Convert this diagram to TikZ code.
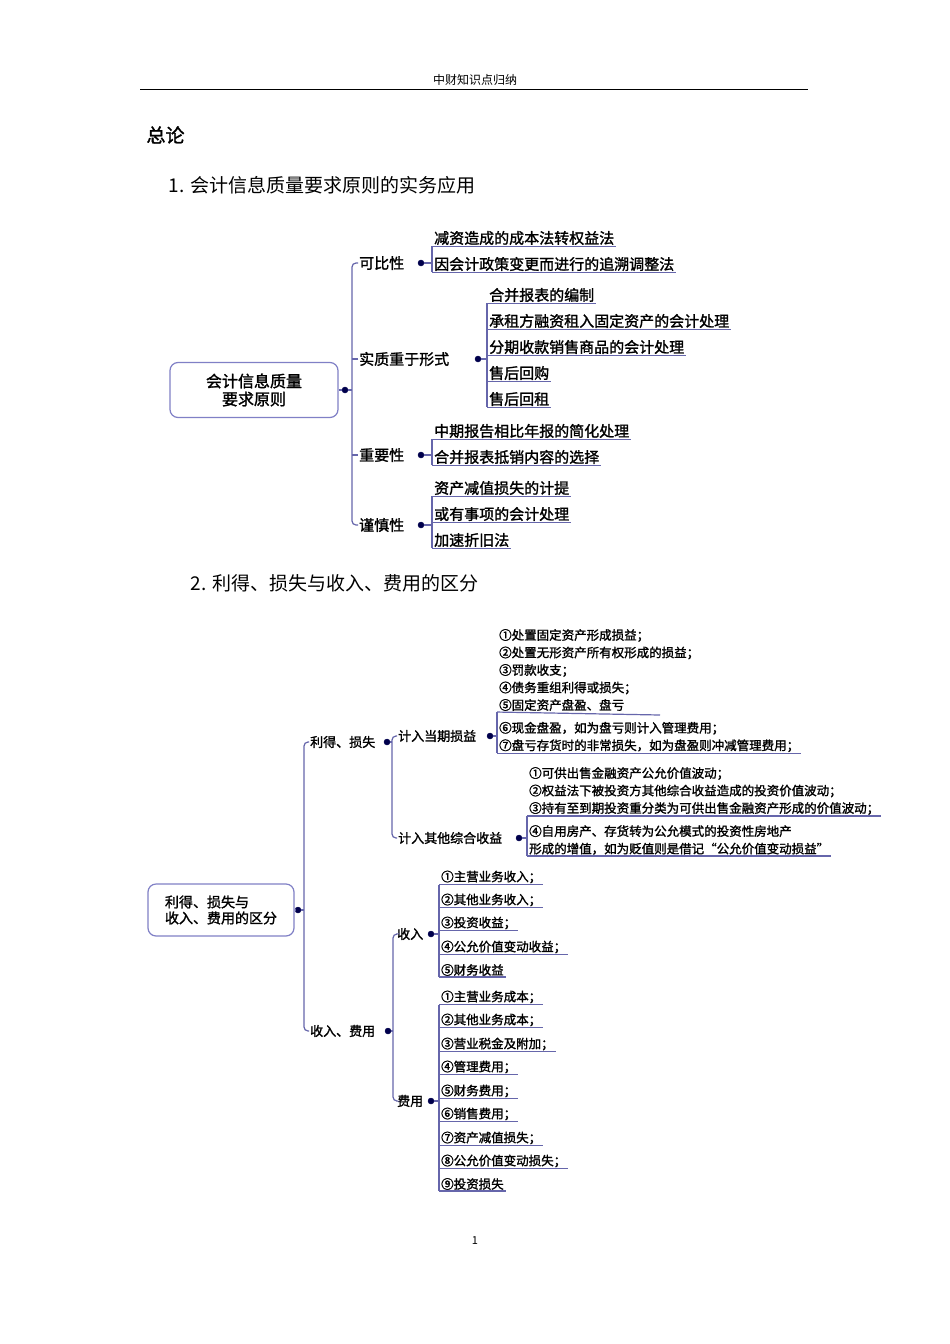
\documentclass[tikz,border=0pt]{standalone}
\usepackage{fontspec}
\setmainfont{Noto Sans CJK SC}[AutoFakeBold=1.5]
\newfontfamily\serifcjk{Noto Sans CJK SC}[AutoFakeBold=0.5]
\begin{document}
\begin{tikzpicture}[x=1pt,y=-1pt,
  lk/.style={draw=black!55!blue!60!white,line width=1.2pt},
  lf/.style={anchor=west,inner xsep=2pt,inner ysep=1pt,font=\fontsize{15}{17}\selectfont\bfseries},
  sf/.style={anchor=west,inner xsep=2pt,inner ysep=1pt,align=left,font=\fontsize{12.5}{17.5}\selectfont\bfseries},
  cat/.style={anchor=west,inner sep=1pt,font=\fontsize{15}{17}\selectfont\bfseries},
  cat2/.style={anchor=west,inner sep=1pt,font=\fontsize{13}{15}\selectfont\bfseries},
  dot/.style={circle,fill=black!70!blue,draw=black!70!blue,inner sep=0pt,minimum size=6pt},
  rootbox/.style={draw=black!45!blue!50!white,line width=1.2pt,rounded corners=8pt,align=center}]
\useasboundingbox[fill=white] (0,0) rectangle (950,1344);
\newcommand{\ul}[1]{\draw[lk] (#1.south west) -- (#1.south east);}
% header
\node (hd) at (475,80) {\serifcjk\fontsize{12}{14}\selectfont 中财知识点归纳};
\coordinate (hl) at (140,89); \coordinate (hr) at (808,89);
\draw[line width=0.8pt] (hl) -- (hr);
\node[anchor=west] (zl) at (143,135) {\fontsize{19}{21}\selectfont\bfseries 总论};
\node[anchor=west] (t1) at (165,185) {\serifcjk\fontsize{19}{21}\selectfont 1. 会计信息质量要求原则的实务应用};
% part 1
\node[rootbox,minimum width=168pt,minimum height=55pt,font=\fontsize{16}{18}\selectfont\bfseries] (r1) at (254,390) {会计信息质量\\要求原则};
\node[dot] (r1d) at (345,390) {};
\draw[lk] (r1) -- (r1d);
\node[cat] (c1) at (358,263) {可比性}; \node[dot] (c1d) at (421,263) {};
\node[cat] (c2) at (358,359) {实质重于形式}; \node[dot] (c2d) at (478,359) {};
\node[cat] (c3) at (358,455) {重要性}; \node[dot] (c3d) at (421,455) {};
\node[cat] (c4) at (358,525) {谨慎性}; \node[dot] (c4d) at (421,525) {};
\draw[lk,rounded corners=4pt] (c1.west) -- (352,263) -- (352,525) -- (c4.west);
\draw[lk] (r1d) -- (352,390);
\draw[lk] (c2.west) -- (352,359); \draw[lk] (c3.west) -- (352,455);
% leaves
\node[lf] (a1) at (432,238) {减资造成的成本法转权益法}; \ul{a1}
\node[lf] (a2) at (432,264) {因会计政策变更而进行的追溯调整法}; \ul{a2}
\draw[lk,rounded corners=3pt] (a1.south west) -- (a2.south west -| a1.south west) -- (a2.south west);
\draw[lk] (c1d) -- (c1d -| a1.south west);
\node[lf] (b1) at (487,295) {合并报表的编制}; \ul{b1}
\node[lf] (b2) at (487,321) {承租方融资租入固定资产的会计处理}; \ul{b2}
\node[lf] (b3) at (487,347) {分期收款销售商品的会计处理}; \ul{b3}
\node[lf] (b4) at (487,373) {售后回购}; \ul{b4}
\node[lf] (b5) at (487,399) {售后回租}; \ul{b5}
\draw[lk,rounded corners=3pt] (b1.south west) -- (b5.south west);
\draw[lk] (c2d) -- (c2d -| b1.south west);
\node[lf] (d1) at (432,431) {中期报告相比年报的简化处理}; \ul{d1}
\node[lf] (d2) at (432,457) {合并报表抵销内容的选择}; \ul{d2}
\draw[lk] (d1.south west) -- (d2.south west);
\draw[lk] (c3d) -- (c3d -| d1.south west);
\node[lf] (e1) at (432,488) {资产减值损失的计提}; \ul{e1}
\node[lf] (e2) at (432,514) {或有事项的会计处理}; \ul{e2}
\node[lf] (e3) at (432,540) {加速折旧法}; \ul{e3}
\draw[lk] (e1.south west) -- (e3.south west);
\draw[lk] (c4d) -- (c4d -| e1.south west);
% part 2
\node[anchor=west] (t2) at (187,583) {\serifcjk\fontsize{19}{21}\selectfont 2. 利得、损失与收入、费用的区分};
\node[rootbox,minimum width=146pt,minimum height=52pt,font=\fontsize{14}{16}\selectfont\bfseries,align=left] (r2) at (221,910) {利得、损失与\\收入、费用的区分};
\node[dot] (r2d) at (298,910) {};
\draw[lk] (r2) -- (r2d);
\node[cat2] (g1) at (309,742) {利得、损失}; \node[dot] (g1d) at (387,742) {};
\node[cat2] (g2) at (309,1031) {收入、费用}; \node[dot] (g2d) at (388,1031) {};
\draw[lk,rounded corners=4pt] (g1.west) -- (304,742) -- (304,1031) -- (g2.west);
\draw[lk] (r2d) -- (304,910);
\node[cat2] (h1) at (397,736) {计入当期损益}; \node[dot] (h1d) at (490,736) {};
\node[cat2] (h2) at (397,838) {计入其他综合收益}; \node[dot] (h2d) at (519,838) {};
\draw[lk,rounded corners=4pt] (h1.west) -- (392,736) -- (392,838) -- (h2.west);
\draw[lk] (g1d) -- (392,742);
\node[sf] (p1) at (497,670) {①处置固定资产形成损益；\\②处置无形资产所有权形成的损益；\\③罚款收支；\\④债务重组利得或损失；\\⑤固定资产盘盈、盘亏}; 
\draw[lk] (p1.south west) -- (660,715);
\node[sf] (p2) at (497,737) {⑥现金盘盈，如为盘亏则计入管理费用；\\⑦盘亏存货时的非常损失，如为盘盈则冲减管理费用；}; \ul{p2}
\draw[lk] (p1.south west) -- (p2.south west);
\draw[lk] (h1d) -- (h1d -| p2.west);
\node[sf] (q1) at (527,791) {①可供出售金融资产公允价值波动；\\②权益法下被投资方其他综合收益造成的投资价值波动；\\③持有至到期投资重分类为可供出售金融资产形成的价值波动；}; \ul{q1}
\node[sf] (q2) at (527,840) {④自用房产、存货转为公允模式的投资性房地产\\形成的增值，如为贬值则是借记“公允价值变动损益”}; \ul{q2}
\draw[lk] (q1.south west) -- (q2.south west);
\draw[lk] (h2d) -- (h2d -| q2.west);
\node[cat2] (k1) at (396,934) {收入}; \node[dot] (k1d) at (431,934) {};
\node[cat2] (k2) at (396,1101) {费用}; \node[dot] (k2d) at (431,1101) {};
\draw[lk,rounded corners=4pt] (k1.west) -- (393,934) -- (393,1101) -- (k2.west);
\draw[lk] (g2d) -- (393,1031);
\foreach \i/\y/\t in {1/877/①主营业务收入；,2/900/②其他业务收入；,3/923/③投资收益；,4/947/④公允价值变动收益；,5/970/⑤财务收益}{
  \node[sf] (m\i) at (439,\y) {\t}; \ul{m\i} }
\draw[lk] (m1.south west) -- (m5.south west);
\draw[lk] (k1d) -- (k1d -| m1.south west);
\foreach \i/\y/\t in {1/997/①主营业务成本；,2/1020/②其他业务成本；,3/1044/③营业税金及附加；,4/1067/④管理费用；,5/1091/⑤财务费用；,6/1114/⑥销售费用；,7/1138/⑦资产减值损失；,8/1161/⑧公允价值变动损失；,9/1184/⑨投资损失}{
  \node[sf] (n\i) at (439,\y) {\t}; \ul{n\i} }
\draw[lk] (n1.south west) -- (n9.south west);
\draw[lk] (k2d) -- (k2d -| n1.south west);
\node (pg) at (475,1241) {\serifcjk\fontsize{11}{13}\selectfont 1};
\end{tikzpicture}
\end{document}
